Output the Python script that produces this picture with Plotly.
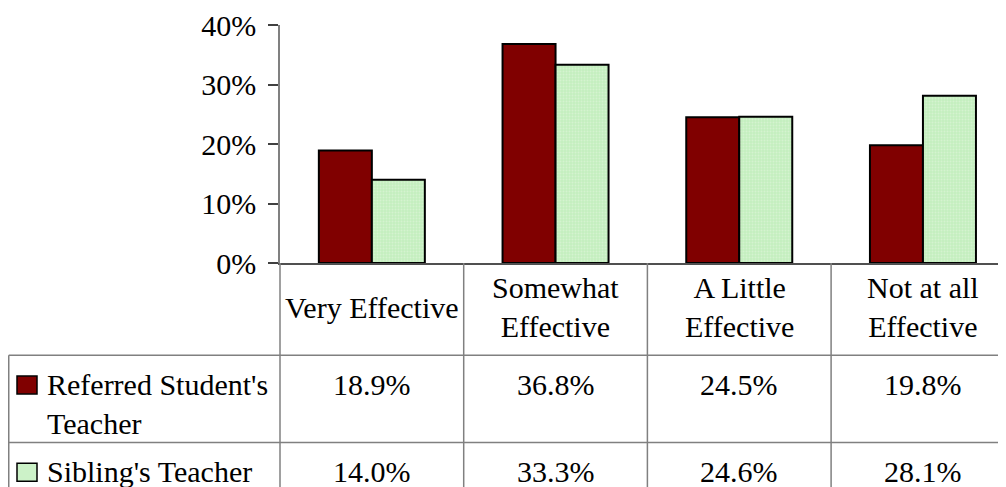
import plotly.graph_objects as go

# ---- data ----
categories = ["Very Effective", "Somewhat Effective", "A Little Effective", "Not at all Effective"]
header_labels = ["Very Effective", "Somewhat<br>Effective", "A Little<br>Effective", "Not at all<br>Effective"]
series_names = ["Referred Student's<br>Teacher", "Sibling's Teacher"]
referred = [18.9, 36.8, 24.5, 19.8]
sibling = [14.0, 33.3, 24.6, 28.1]
y_ticks = [0, 10, 20, 30, 40]

# ---- layout constants (page has an 8px body margin) ----
W, H = 998, 479
plot_left, plot_top, plot_bottom = 272, 15, 255
cat_w = 183.7
plot_w = W - plot_left
plot_h = plot_bottom - plot_top
xmin = -0.5
xmax = xmin + plot_w / cat_w
FONT = "Liberation Serif"
FS = 30
RED = "#800000"
GREEN = "#ccf2c8"
GRID = "#808080"

def py(p):  # pixel y -> paper y
    return (plot_bottom - p) / plot_h

def pxx(p):  # pixel x -> paper x
    return (p - plot_left) / plot_w

def cx(v):  # category coordinate -> paper x
    return (v - xmin) / (xmax - xmin)

fig = go.Figure()
fig.add_trace(go.Bar(x=list(range(len(categories))), y=referred, name="Referred",
                     marker=dict(color=RED, line=dict(color="black", width=2))))
fig.add_trace(go.Bar(x=list(range(len(categories))), y=sibling, name="Sibling",
                     marker=dict(color="#c4eebe", line=dict(color="black", width=2),
                                 pattern=dict(shape=".", bgcolor="#c4eebe", fgcolor="#e4f8e2",
                                              size=3, solidity=0.35))))

# table geometry (pixels)
row_top = [plot_bottom, 348, 436]
table_left = 0.75

shapes = []
for i in range(len(categories) + 1):
    shapes.append(dict(type="line", xref="paper", yref="paper",
                       x0=cx(i - 0.5), x1=cx(i - 0.5), y0=py(plot_bottom), y1=py(H + 50),
                       line=dict(color=GRID, width=1.5)))
shapes.append(dict(type="line", xref="paper", yref="paper",
                   x0=pxx(table_left), x1=pxx(table_left), y0=py(row_top[1]), y1=py(H + 50),
                   line=dict(color=GRID, width=1.5)))
for r in [1, 2]:
    shapes.append(dict(type="line", xref="paper", yref="paper",
                       x0=pxx(table_left), x1=cx(len(categories) - 0.5), y0=py(row_top[r]), y1=py(row_top[r]),
                       line=dict(color=GRID, width=1.5)))
for r, col in [(1, RED), (2, GREEN)]:
    top = row_top[r] + 21
    shapes.append(dict(type="rect", xref="paper", yref="paper",
                       x0=pxx(9), x1=pxx(29), y0=py(top), y1=py(top + 18),
                       fillcolor=col, line=dict(color="black", width=1.5)))

ann = []
font = dict(family=FONT, size=FS, color="black")
for i, lab in enumerate(header_labels):
    ann.append(dict(x=cx(i), y=py((row_top[0] + row_top[1]) / 2 - 2), xref="paper", yref="paper",
                    text=lab, showarrow=False, xanchor="center", yanchor="middle", font=font))
for r in [1, 2]:
    ann.append(dict(x=pxx(37), y=py(row_top[r] + 11), xref="paper", yref="paper", text=series_names[r - 1],
                    showarrow=False, xanchor="left", yanchor="top", align="left", font=font))
for r, vals in [(1, referred), (2, sibling)]:
    for i, v in enumerate(vals):
        ann.append(dict(x=cx(i), y=py(row_top[r] + 11), xref="paper", yref="paper",
                        text=f"{v:.1f}%", showarrow=False, xanchor="center", yanchor="top", font=font))

fig.update_layout(
    width=W, height=H,
    margin=dict(l=plot_left, r=0, t=plot_top, b=H - plot_bottom, pad=0),
    paper_bgcolor="white", plot_bgcolor="white",
    barmode="group", bargap=0.423, bargroupgap=0,
    showlegend=False,
    shapes=shapes, annotations=ann,
    font=font,
)
fig.update_xaxes(range=[xmin, xmax], showticklabels=False, showgrid=False, zeroline=False,
                 showline=True, linecolor="#505050", linewidth=1.5, ticks="", fixedrange=True)
fig.update_yaxes(range=[0, 40], tickvals=y_ticks, ticktext=[f"{t}%" for t in y_ticks],
                 showgrid=False, zeroline=False, showline=True, linecolor=GRID, linewidth=1.5,
                 ticks="outside", ticklen=10, tickcolor="#404040", tickwidth=1.5,
                 ticklabelstandoff=6, ticklabeloverflow="allow", tickfont=font)

fig.write_html("out.html")
